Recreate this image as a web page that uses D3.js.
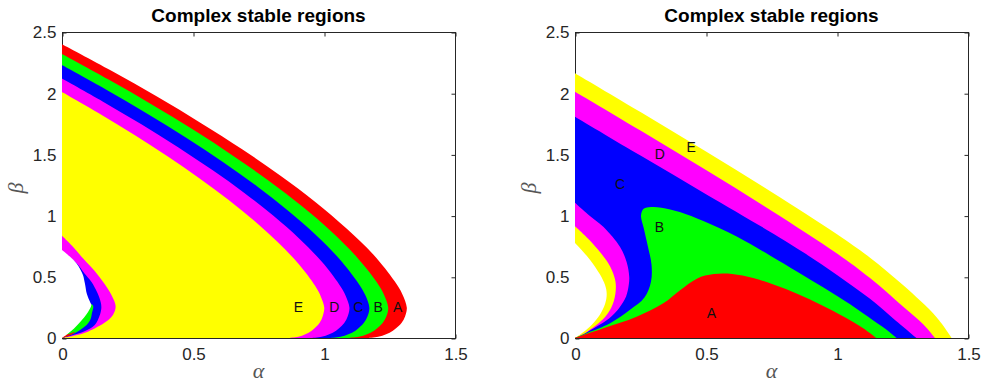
<!DOCTYPE html>
<html>
<head>
<meta charset="utf-8">
<script src="https://cdn.jsdelivr.net/npm/d3@7"></script>
<style>
  body { margin: 0; background: #fff; }
  svg { display: block; }
</style>
</head>
<body>
<svg id="fig" width="982" height="383"></svg>
<script>
// ---- axis ticks ----
const alphaTicks = [0, 0.5, 1, 1.5];
const alphaTickLabels = ["0", "0.5", "1", "1.5"];
const betaTicks = [0, 0.5, 1, 1.5, 2, 2.5];
const betaTickLabels = ["0", "0.5", "1", "1.5", "2", "2.5"];

// ---- region colours ----
const regionColors = { A: "#ff0000", B: "#00ff00", C: "#0000ff", D: "#ff00ff", E: "#ffff00", none: "#ffffff" };

// ---- left panel boundaries, [alpha, beta] ----
// outer boundaries: from the beta axis round the nose down to the alpha axis
const leftOuterA = [[0, 2.40], [0.187, 2.185], [0.364, 1.97], [0.531, 1.755], [0.689, 1.54], [0.834, 1.325], [0.968, 1.11], [1.086, 0.895], [1.189, 0.68], [1.269, 0.465], [1.299, 0.358], [1.316, 0.25], [1.313, 0.2], [1.304, 0.15], [1.286, 0.1], [1.263, 0.06], [1.237, 0.03], [1.207, 0.01], [1.165, 0]];
const leftOuterB = [[0, 2.32], [0.176, 2.113], [0.344, 1.906], [0.503, 1.699], [0.651, 1.492], [0.789, 1.285], [0.915, 1.078], [1.028, 0.871], [1.124, 0.664], [1.201, 0.457], [1.229, 0.354], [1.245, 0.25], [1.242, 0.2], [1.232, 0.15], [1.214, 0.1], [1.191, 0.06], [1.164, 0.03], [1.133, 0.01], [1.09, 0]];
const leftOuterC = [[0, 2.23], [0.166, 2.032], [0.324, 1.834], [0.474, 1.636], [0.614, 1.438], [0.744, 1.24], [0.862, 1.042], [0.968, 0.844], [1.059, 0.646], [1.131, 0.448], [1.158, 0.349], [1.173, 0.25], [1.17, 0.2], [1.160, 0.15], [1.142, 0.1], [1.12, 0.06], [1.093, 0.03], [1.063, 0.01], [1.02, 0]];
const leftOuterD = [[0, 2.12], [0.155, 1.933], [0.303, 1.746], [0.443, 1.559], [0.574, 1.372], [0.696, 1.185], [0.807, 0.998], [0.906, 0.811], [0.991, 0.624], [1.058, 0.437], [1.083, 0.344], [1.097, 0.25], [1.094, 0.2], [1.085, 0.15], [1.068, 0.1], [1.046, 0.06], [1.02, 0.03], [0.991, 0.01], [0.95, 0]];
const leftOuterE = [[0, 2.01], [0.142, 1.834], [0.277, 1.658], [0.404, 1.482], [0.524, 1.306], [0.635, 1.13], [0.736, 0.954], [0.826, 0.778], [0.904, 0.602], [0.966, 0.426], [0.988, 0.338], [1.001, 0.25], [0.998, 0.2], [0.990, 0.15], [0.974, 0.1], [0.953, 0.06], [0.929, 0.03], [0.902, 0.01], [0.864, 0]];
// inner boundaries near the origin
const leftInnerD = [[0, 0.836], [0.04, 0.75], [0.08, 0.651], [0.137, 0.515], [0.182, 0.378], [0.203, 0.28], [0.204, 0.24], [0.195, 0.19], [0.169, 0.134], [0.099, 0.052], [0.045, 0.018], [0, 0]];
const leftInnerC = [[0, 0.70], [0.03, 0.66], [0.06, 0.60], [0.085, 0.53], [0.112, 0.46], [0.135, 0.37], [0.148, 0.29], [0.150, 0.242], [0.143, 0.18], [0.125, 0.107], [0.09, 0.06], [0.036, 0.02], [0, 0]];
const leftInnerB = [[0, 0.28], [0.117, 0.27], [0.114, 0.2], [0.108, 0.15], [0.088, 0.095], [0.05, 0.04], [0, 0]];
const leftInnerA = [[0, 0.02], [0.03, 0.035], [0.05, 0.05], [0.03, 0.022], [0, 0]];
const leftHole = [[0, 0.719], [0.03, 0.665], [0.055, 0.61], [0.07, 0.56], [0.08, 0.515], [0.088, 0.44], [0.095, 0.36], [0.108, 0.29], [0.112, 0.27], [0.10, 0.215], [0.085, 0.17], [0.065, 0.12], [0.045, 0.075], [0.02, 0.03], [0, 0]];

// ---- right panel boundaries, [alpha, beta] ----
const rightOuterE = [[0, 2.163], [0.25, 1.8455], [0.5, 1.523], [0.75, 1.193], [1.0, 0.848], [1.126, 0.656], [1.253, 0.43], [1.38, 0.17], [1.438, 0]];
const rightOuterD = [[0, 2.012], [0.25, 1.695], [0.5, 1.372], [0.75, 1.04], [1.0, 0.69], [1.126, 0.49], [1.253, 0.255], [1.33, 0.11], [1.374, 0]];
const rightOuterC = [[0, 1.808], [0.25, 1.49], [0.5, 1.175], [0.744, 0.869], [0.871, 0.70], [1.0, 0.515], [1.126, 0.32], [1.22, 0.15], [1.304, 0]];
const rightInnerD = [[0, 1.106], [0.05, 1.01], [0.108, 0.909], [0.172, 0.744], [0.197, 0.62], [0.207, 0.5], [0.205, 0.43], [0.195, 0.34], [0.17, 0.25], [0.13, 0.16], [0.08, 0.09], [0.035, 0.035], [0, 0]];
const rightInnerE = [[0, 0.912], [0.064, 0.78], [0.127, 0.61], [0.15, 0.50], [0.156, 0.42], [0.148, 0.3], [0.125, 0.2], [0.09, 0.12], [0.045, 0.05], [0, 0]];
const rightHole = [[0, 0.776], [0.057, 0.64], [0.095, 0.52], [0.115, 0.43], [0.121, 0.36], [0.115, 0.28], [0.095, 0.19], [0.065, 0.11], [0.03, 0.045], [0, 0]];
const rightBlobB = [[0, 0], [0.045, 0.04], [0.134, 0.121], [0.21, 0.23], [0.265, 0.33], [0.29, 0.46], [0.292, 0.6], [0.278, 0.75], [0.262, 0.9], [0.252, 1.0], [0.262, 1.055], [0.29, 1.07], [0.33, 1.065], [0.40, 1.03], [0.49, 0.955], [0.617, 0.83], [0.744, 0.675], [0.85, 0.54], [0.95, 0.41], [1.05, 0.275], [1.14, 0.14], [1.2, 0.05], [1.228, 0]];
const rightBlobA = [[0, 0], [0.108, 0.079], [0.235, 0.174], [0.337, 0.283], [0.401, 0.39], [0.465, 0.485], [0.53, 0.522], [0.60, 0.523], [0.68, 0.49], [0.76, 0.435], [0.85, 0.36], [0.94, 0.27], [1.03, 0.17], [1.10, 0.08], [1.15, 0]];

// ---- region labels ----
const leftLabelNames = ["E", "D", "C", "B", "A"];
const leftLabelAlpha = [0.902, 1.039, 1.131, 1.207, 1.281];
const leftLabelBeta = [0.25, 0.25, 0.25, 0.25, 0.25];
const rightLabelNames = ["E", "D", "C", "B", "A"];
const rightLabelAlpha = [0.443, 0.324, 0.172, 0.322, 0.521];
const rightLabelBeta = [1.563, 1.503, 1.258, 0.904, 0.207];

// painting order (later layers cover earlier ones)
const leftLayers = [
  [leftOuterA, "A"], [leftOuterB, "B"], [leftOuterC, "C"], [leftOuterD, "D"], [leftOuterE, "E"],
  [leftInnerD, "D"], [leftInnerC, "C"], [leftInnerB, "B"], [leftInnerA, "A"], [leftHole, "none"]
];
const rightLayers = [
  [rightOuterE, "E"], [rightOuterD, "D"], [rightOuterC, "C"],
  [rightInnerD, "D"], [rightInnerE, "E"], [rightHole, "none"],
  [rightBlobB, "B"], [rightBlobA, "A"]
];

const svg = d3.select("#fig");
const FONT = "'Liberation Sans', Arial, Helvetica, sans-serif";
const INK = "#262626";

function drawPanel(left, right, layers, labelNames, labelAlpha, labelBeta) {
  const top = 32, bottom = 338;
  const x = d3.scaleLinear().domain([0, 1.5]).range([left, right]);
  const y = d3.scaleLinear().domain([0, 2.5]).range([bottom, top]);
  const g = svg.append("g");

  // box and inward ticks (drawn beneath the filled regions)
  const axes = g.append("g");
  axes.append("rect")
    .attr("x", left + 0.5).attr("y", top + 0.5)
    .attr("width", right - left).attr("height", bottom - top)
    .attr("fill", "none").attr("stroke", INK).attr("stroke-width", 1);

  const styleAxis = sel => {
    sel.select(".domain").remove();
    sel.selectAll(".tick line").attr("stroke", INK);
    sel.selectAll(".tick text").attr("fill", INK).attr("font-family", FONT).attr("font-size", 17);
  };

  axes.append("g").attr("transform", `translate(0.5,${bottom + 0.5})`)
    .call(d3.axisBottom(x).tickValues(alphaTicks).tickFormat((d, i) => alphaTickLabels[i]).tickSizeInner(-4).tickSizeOuter(0).tickPadding(9))
    .call(styleAxis);
  axes.append("g").attr("transform", `translate(0.5,${top + 0.5})`)
    .call(d3.axisTop(x).tickValues(alphaTicks).tickFormat("").tickSizeInner(-4).tickSizeOuter(0))
    .call(styleAxis);
  axes.append("g").attr("transform", `translate(${left + 0.5},0.5)`)
    .call(d3.axisLeft(y).tickValues(betaTicks).tickFormat((d, i) => betaTickLabels[i]).tickSizeInner(-4).tickSizeOuter(0).tickPadding(6))
    .call(styleAxis);
  axes.append("g").attr("transform", `translate(${right + 0.5},0.5)`)
    .call(d3.axisRight(y).tickValues(betaTicks).tickFormat("").tickSizeInner(-4).tickSizeOuter(0))
    .call(styleAxis);

  // filled stability regions
  const line = d3.line().x(d => x(d[0])).y(d => y(d[1])).curve(d3.curveCatmullRom.alpha(0.5));
  g.append("g").selectAll("path").data(layers).join("path")
    .attr("d", d => line(d[0]) + `L${x(0)},${y(0)}Z`)
    .attr("fill", d => regionColors[d[1]])
    .attr("stroke", "none");

  // region letters
  g.append("g").selectAll("text").data(labelNames).join("text")
    .attr("x", (d, i) => x(labelAlpha[i]))
    .attr("y", (d, i) => y(labelBeta[i]))
    .attr("dy", "0.36em")
    .attr("text-anchor", "middle")
    .attr("font-family", FONT).attr("font-size", 14).attr("fill", "#111")
    .text(d => d);

  // title and axis names
  g.append("text")
    .attr("x", (left + right) / 2).attr("y", 22)
    .attr("text-anchor", "middle")
    .attr("font-family", FONT).attr("font-weight", "bold").attr("font-size", 19).attr("fill", "#000")
    .text("Complex stable regions");
  g.append("text")
    .attr("x", (left + right) / 2).attr("y", 378)
    .attr("text-anchor", "middle")
    .attr("font-family", "'Liberation Serif', 'Times New Roman', serif").attr("font-style", "italic")
    .attr("font-size", 22).attr("fill", "#555")
    .text("α");
  g.append("text")
    .attr("transform", `translate(${left - 39},${(top + bottom) / 2 + 3}) rotate(-90)`)
    .attr("text-anchor", "middle")
    .attr("font-family", "'Liberation Serif', 'Times New Roman', serif").attr("font-style", "italic")
    .attr("font-size", 22).attr("fill", "#555")
    .text("β");
}

drawPanel(62, 455, leftLayers, leftLabelNames, leftLabelAlpha, leftLabelBeta);
drawPanel(575, 968, rightLayers, rightLabelNames, rightLabelAlpha, rightLabelBeta);
</script>
</body>
</html>
